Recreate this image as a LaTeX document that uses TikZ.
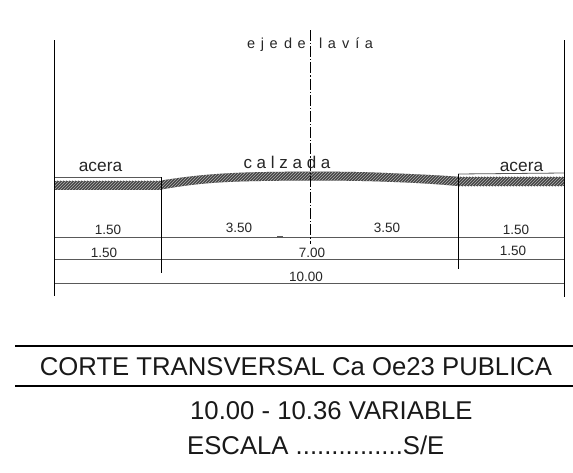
\documentclass[tikz,border=0pt]{standalone}
\usepackage{fontspec}
\setmainfont{Liberation Sans}
\usetikzlibrary{patterns}
\definecolor{dimgray}{gray}{0.35}
\definecolor{bandgray}{gray}{0.27}
\tikzset{
  ink/.style={draw=black,line width=0.9pt},
  dimline/.style={draw=dimgray,line width=1pt},
  tick/.style={draw=dimgray,line width=1.4pt},
  band/.style={fill=bandgray,draw=none},
  bandhatch/.style={pattern=north east lines,pattern color=white!70!black,draw=none},
  curb/.style={draw=dimgray,line width=0.8pt},
  rule/.style={draw=black,line width=1.3pt},
  axis/.style={draw=black,line width=0.8pt,dash pattern=on 11pt off 2pt on 1.2pt off 2pt},
  dimtxt/.style={font=\fontsize{13.5}{14}\selectfont,text=black!85,inner sep=0pt},
  lbl/.style={font=\fontsize{17.3}{18}\selectfont,text=black!85,inner sep=0pt},
  big/.style={font=\fontsize{25.7}{26}\selectfont,text=black!90,inner sep=0pt}
}
\begin{document}
\begin{tikzpicture}[x=1pt,y=-1pt]
\useasboundingbox (0,0) rectangle (573,472);
\fill[white] (0,0) rectangle (573,472);
% road and sidewalk bands
\path[band] (54,180.5) rectangle (161,189.5);
\path[band] (458,176.7) rectangle (564,186);
\path[band] (161,180.5) .. controls (190,176) and (210,174) .. (240,172.7) .. controls (270,171.5) and (340,171) .. (380,172.7) .. controls (410,174) and (435,175) .. (458,176.7) -- (458,186) .. controls (430,183.5) and (410,182.5) .. (380,181.5) .. controls (340,180) and (270,180.5) .. (240,181.5) .. controls (210,182.5) and (190,184.5) .. (161,189.5) -- cycle;
\path[bandhatch] (54,180.5) rectangle (161,189.5);
\path[bandhatch] (458,176.7) rectangle (564,186);
\path[bandhatch] (161,180.5) .. controls (190,176) and (210,174) .. (240,172.7) .. controls (270,171.5) and (340,171) .. (380,172.7) .. controls (410,174) and (435,175) .. (458,176.7) -- (458,186) .. controls (430,183.5) and (410,182.5) .. (380,181.5) .. controls (340,180) and (270,180.5) .. (240,181.5) .. controls (210,182.5) and (190,184.5) .. (161,189.5) -- cycle;
% curbs
\draw[curb] (54,177) -- (161,177);
\draw[curb] (458,174) -- (564,173);
% dimension lines
\draw[dimline] (54,237) -- (564,237);
\draw[dimline] (54,259.5) -- (564,259.5);
\draw[dimline] (54,283.5) -- (564,283.5);
\draw[tick] (277,237) -- (283,237);
\draw[tick] (277,259.3) -- (283,259.3);
\draw[tick] (280,283.3) -- (288,283.3);
% verticals
\draw[ink] (54,40) -- (54,296);
\draw[ink] (564,40) -- (564,297);
\draw[ink] (161,177) -- (161,273);
\draw[ink] (458,174) -- (458,269);
\draw[axis] (310,30) -- (310,244);
% labels
\node[lbl,anchor=base] (ac1) at (100.5,171) {acera};
\node[lbl,anchor=base] (ac2) at (521.5,171) {acera};
\node[font=\fontsize{17}{18}\selectfont,text=black!85,inner sep=0pt,anchor=base] (cal) at (287,168.5) {c a l z a d a};
\node[font=\fontsize{14.5}{15}\selectfont,text=black!85,inner sep=0pt,anchor=base west] (eje1) at (247,48.5) {e\hspace{1.5pt} j\hspace{1.5pt} e\hspace{6.5pt}d\hspace{1.5pt} e};
\node[font=\fontsize{14.5}{15}\selectfont,text=black!85,inner sep=0pt,anchor=base west] (eje2) at (319,48.5) {l\hspace{1.5pt} a\hspace{2pt} v\hspace{2pt} í\hspace{1.5pt} a};
\node[dimtxt,anchor=base] (d1) at (108,234.5) {1.50};
\node[dimtxt,anchor=base] (d2) at (239,232.5) {3.50};
\node[dimtxt,anchor=base] (d3) at (387,232.5) {3.50};
\node[dimtxt,anchor=base] (d4) at (516,234.5) {1.50};
\node[dimtxt,anchor=base] (d5) at (104,257) {1.50};
\node[dimtxt,anchor=base] (d6) at (312,257) {7.00};
\node[dimtxt,anchor=base] (d7) at (513,255) {1.50};
\node[dimtxt,anchor=base] (d8) at (306,281) {10.00};
% title block
\draw[rule] (15,346) -- (573,346);
\draw[rule] (15,386) -- (573,386);
\node[big,anchor=base] (t1) at (296,375) {CORTE TRANSVERSAL Ca Oe23 PUBLICA};
\node[big,anchor=base west] (t2) at (190,419) {10.00 - 10.36 VARIABLE};
\node[big,anchor=base west] (t3) at (187,454) {ESCALA ...............S/E};
\end{tikzpicture}
\end{document}
